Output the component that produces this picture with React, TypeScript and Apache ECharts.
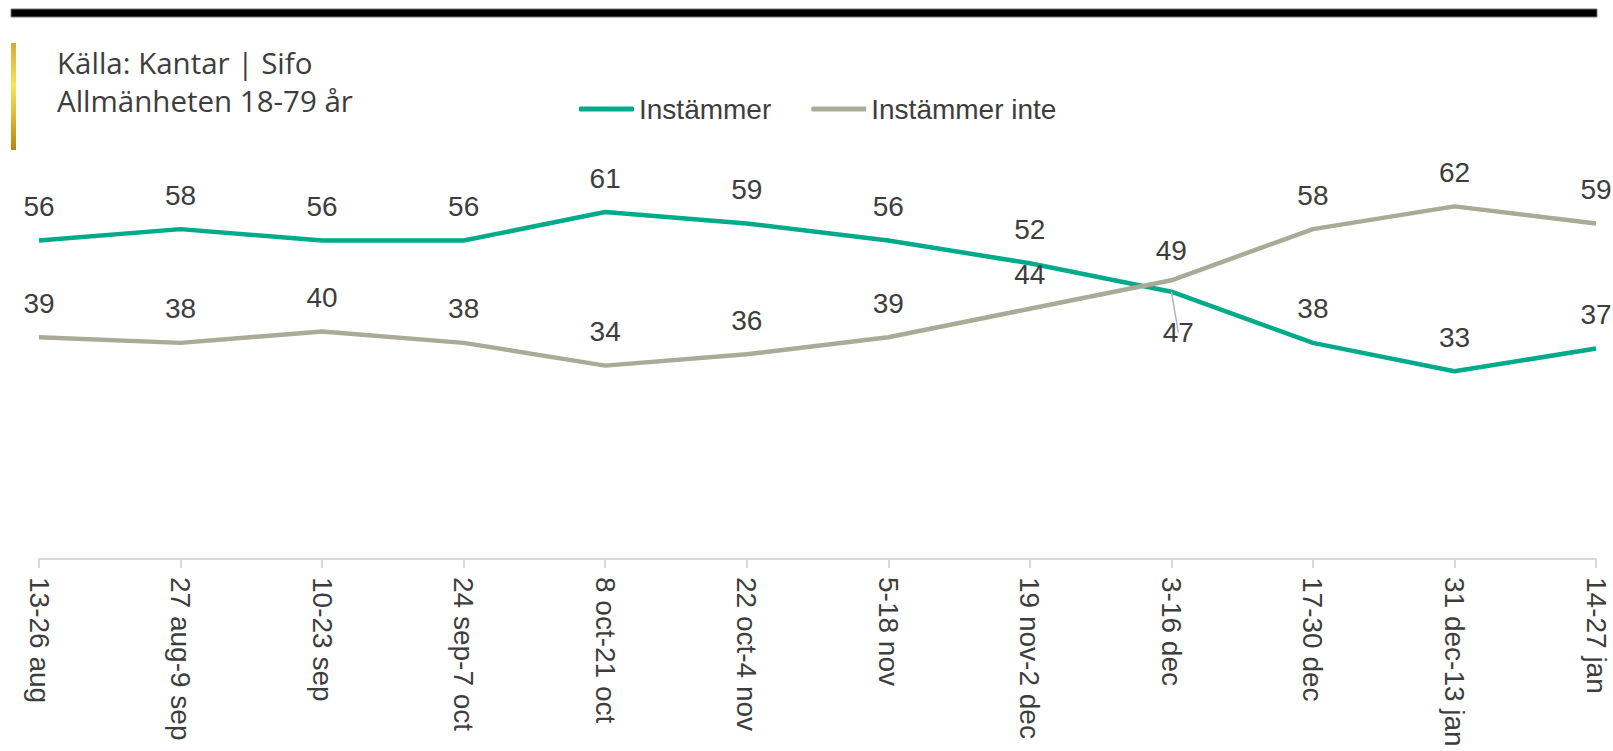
import React, { useEffect, useRef } from "react";
import * as echarts from "echarts";

const categories = [
  "13-26 aug",
  "27 aug-9 sep",
  "10-23 sep",
  "24 sep-7 oct",
  "8 oct-21 oct",
  "22 oct-4 nov",
  "5-18 nov",
  "19 nov-2 dec",
  "3-16 dec",
  "17-30 dec",
  "31 dec-13 jan",
  "14-27 jan",
];
const instammer = [56, 58, 56, 56, 61, 59, 56, 52, 47, 38, 33, 37];
const instammerInte = [39, 38, 40, 38, 34, 36, 39, 44, 49, 58, 62, 59];
const seriesNames = ["Instämmer", "Instämmer inte"];
const sourceLines = ["Källa: Kantar | Sifo", "Allmänheten 18-79 år"];

const GREEN = "#00AA8B";
const GREY = "#A9AA98";
const TEXT = "#3d3d3d";
const FONT = 'Arial, "Liberation Sans", sans-serif';

export default function App() {
  const ref = useRef<HTMLDivElement>(null);
  useEffect(() => {
    document.body.style.margin = "0";
    const chart = echarts.init(ref.current!, null, { renderer: "svg" });
    const labelBase = {
      show: true,
      position: "top",
      distance: 20,
      fontSize: 28,
      color: TEXT,
      fontFamily: FONT,
    };
    chart.setOption({
      animation: false,
      backgroundColor: "#ffffff",
      grid: { left: 39, right: 17, top: 104, bottom: 192 },
      legend: {
        left: 574,
        top: 90,
        itemWidth: 55,
        itemHeight: 5,
        itemGap: 40,
        icon: "roundRect",
        textStyle: { fontSize: 28, color: TEXT, fontFamily: FONT },
        data: seriesNames,
      },
      xAxis: {
        type: "category",
        data: categories,
        boundaryGap: false,
        axisLine: { lineStyle: { color: "#d9d9d9", width: 2 } },
        axisTick: { show: true, length: 9, lineStyle: { color: "#d9d9d9", width: 2 } },
        axisLabel: {
          rotate: -90,
          fontSize: 28,
          color: TEXT,
          fontFamily: FONT,
          margin: 18,
          interval: 0,
        },
      },
      yAxis: {
        type: "value",
        min: 0,
        max: 80,
        show: false,
        splitLine: { show: false },
      },
      series: [
        {
          name: seriesNames[0],
          type: "line",
          data: instammer.map((v, i) =>
            i === 8
              ? {
                  value: v,
                  label: { position: "bottom", distance: 27, offset: [7, 0] },
                  labelLine: { show: true, lineStyle: { color: "#b5b5b5", width: 1.5 } },
                }
              : v
          ),
          symbol: "circle",
          symbolSize: 0,
          showSymbol: true,
          color: GREEN,
          lineStyle: { color: GREEN, width: 4.5 },
          label: labelBase,
        },
        {
          name: seriesNames[1],
          type: "line",
          data: instammerInte.map((v, i) =>
            i === 8 ? { value: v, label: { distance: 16 } } : v
          ),
          symbol: "circle",
          symbolSize: 0,
          showSymbol: true,
          color: GREY,
          lineStyle: { color: GREY, width: 4.5 },
          label: labelBase,
        },
      ],
      graphic: [
        {
          type: "rect",
          shape: { x: 11, y: 9, width: 1586, height: 8 },
          style: { fill: "#000000", stroke: "#777777", lineWidth: 1 },
        },
        {
          type: "rect",
          shape: { x: 11, y: 43, width: 5, height: 107 },
          style: {
            fill: new echarts.graphic.LinearGradient(0, 0, 0, 1, [
              { offset: 0, color: "#D6A93A" },
              { offset: 0.4, color: "#F8E45C" },
              { offset: 1, color: "#B8870F" },
            ]),
          },
        },
        {
          type: "text",
          x: 57,
          y: 62,
          style: {
            text: sourceLines[0],
            fontSize: 29.5,
            fontFamily: '"Open Sans", sans-serif',
            fill: TEXT,
            verticalAlign: "middle",
          },
        },
        {
          type: "text",
          x: 57,
          y: 100,
          style: {
            text: sourceLines[1],
            fontSize: 29.5,
            fontFamily: '"Open Sans", sans-serif',
            fill: TEXT,
            verticalAlign: "middle",
          },
        },
      ],
    });
    return () => chart.dispose();
  }, []);
  return <div ref={ref} style={{ width: 1613, height: 751 }} />;
}
